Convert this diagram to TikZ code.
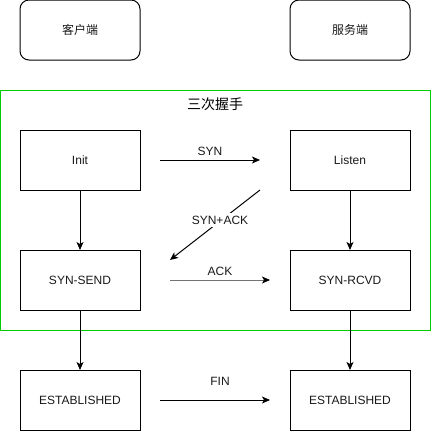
\documentclass[tikz,border=0pt]{standalone}
\usepackage{fontspec}
\setmainfont{Liberation Sans}
\newfontfamily\cjk{Noto Sans CJK SC}
\usetikzlibrary{arrows.meta,calc}
\definecolor{grp}{HTML}{00CC00}
\begin{document}
\begin{tikzpicture}[x=1pt,y=-1pt,line width=1pt,
  box/.style={draw=black,minimum width=120pt,minimum height=60pt,inner sep=0pt,outer sep=0pt,font=\fontsize{12}{14}\selectfont,text=black!90},
  rbox/.style={box,rounded corners=9pt,font=\cjk\fontsize{12}{14}\selectfont},
  arr/.style={-{Stealth[length=8pt,width=7pt,inset=2pt]}},
  lab/.style={font=\fontsize{12}{14}\selectfont,text=black!90,inner sep=1pt}]
\useasboundingbox (0,0) rectangle (431,431);
\node[draw=grp,minimum width=430pt,minimum height=240pt,inner sep=0pt,outer sep=0pt] (grpbox) at (215,210) {};
\node[font=\cjk\fontsize{14}{16}\selectfont,text=black] (title) at (215,104) {三次握手};
\node[rbox] (client) at (80,30) {客户端};
\node[rbox] (server) at (350,30) {服务端};
\node[box] (init) at (80,160) {Init};
\node[box] (listen) at (350,160) {Listen};
\node[box] (ssend) at (80,280) {SYN-SEND};
\node[box] (srcvd) at (350,280) {SYN-RCVD};
\node[box] (estl) at (80,400) {ESTABLISHED};
\node[box] (estr) at (350,400) {ESTABLISHED};
\draw[arr] (init.south) -- (ssend.north);
\draw[arr] (listen.south) -- (srcvd.north);
\draw[arr] (ssend.south) -- (estl.north);
\draw[arr] (srcvd.south) -- (estr.north);
\coordinate (synA) at (160,160);
\coordinate (synB) at (260,160);
\coordinate (saA) at (260,190);
\coordinate (saB) at (170,260);
\coordinate (ackA) at (170,280);
\coordinate (ackB) at (270,280);
\coordinate (finA) at (160,400);
\coordinate (finB) at (270,400);
\draw[arr] (synA) -- (synB);
\node[lab] (synl) at (210,151) {SYN};
\draw[arr] (saA) -- (saB);
\node[lab,fill=white,inner sep=2.5pt] (sal) at (220,220) {SYN+ACK};
\draw[draw=black!55,-{Stealth[length=8pt,width=7pt,inset=2pt,color=black]}] (ackA) -- (ackB);
\node[lab] (ackl) at (220,271) {ACK};
\draw[arr] (finA) -- (finB);
\node[lab] (finl) at (220,381) {FIN};
\end{tikzpicture}
\end{document}
